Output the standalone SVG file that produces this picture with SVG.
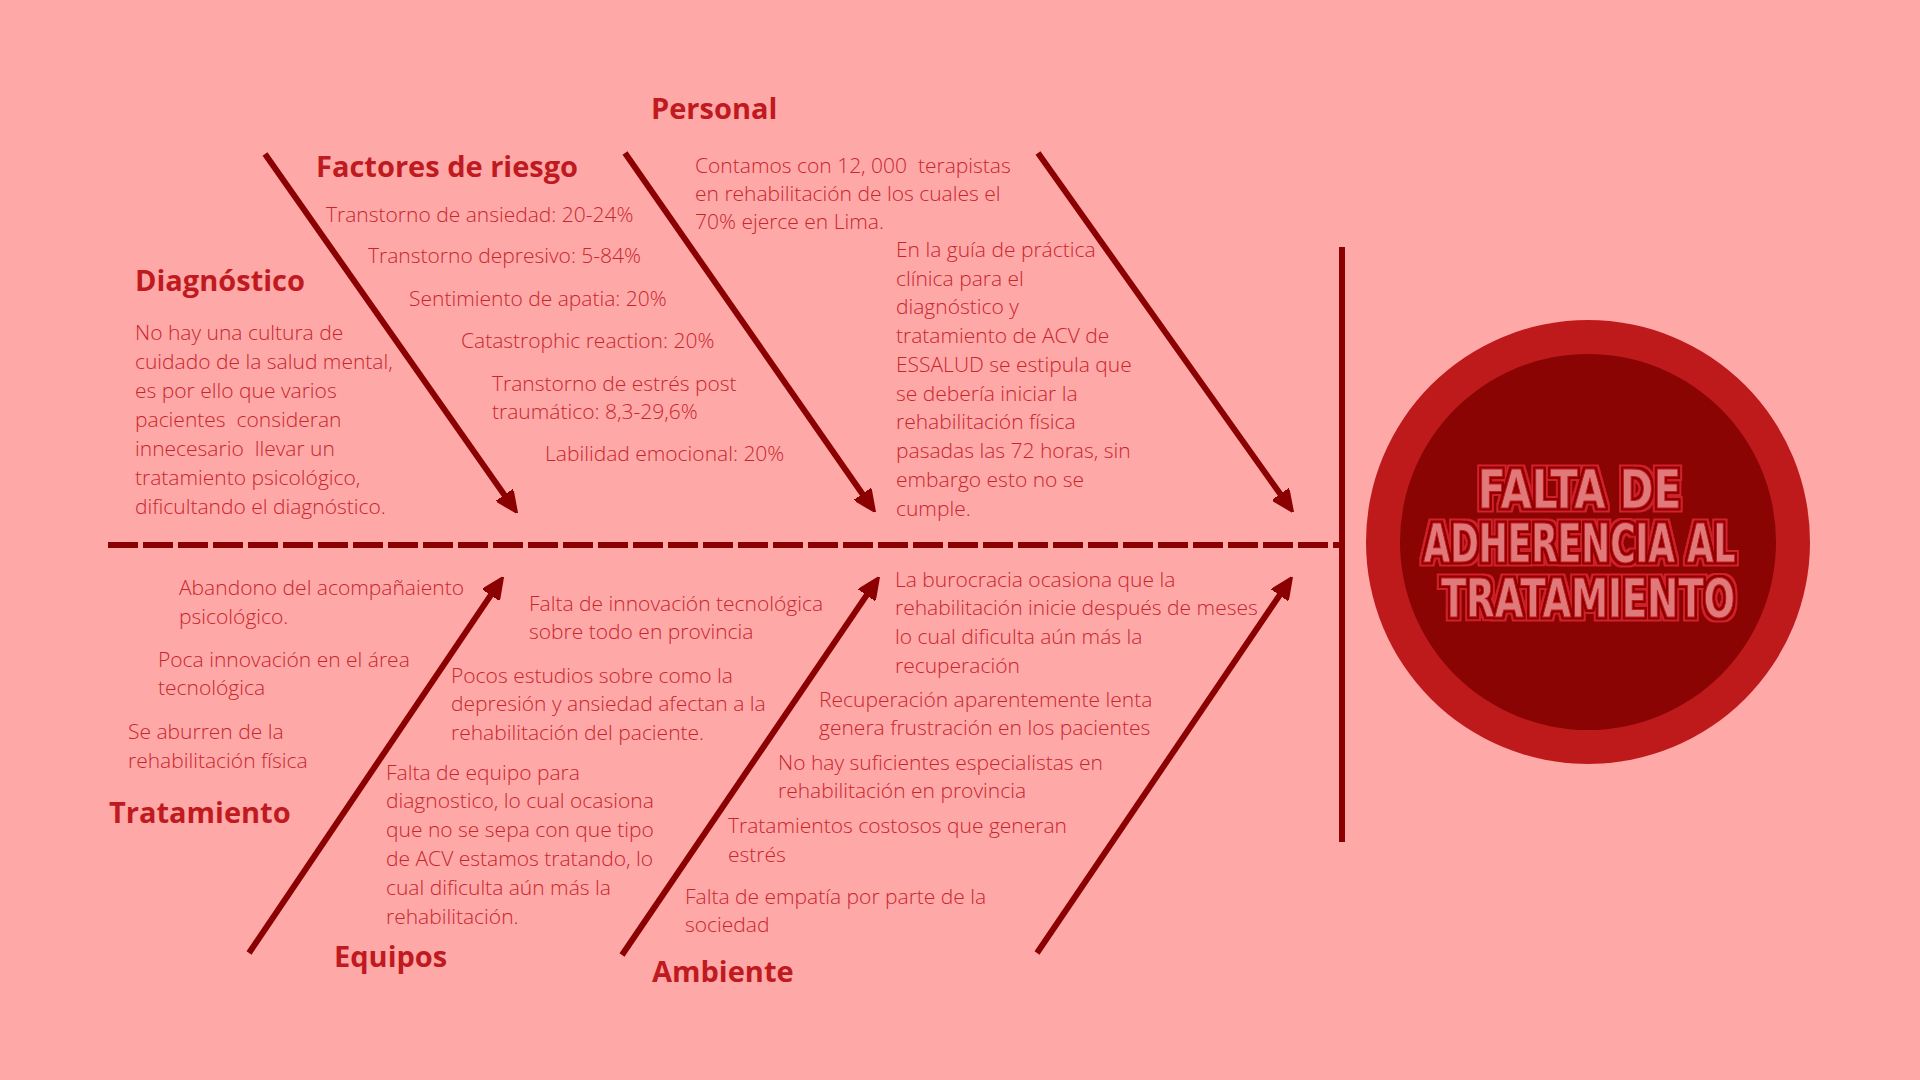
<svg xmlns="http://www.w3.org/2000/svg" width="1920" height="1080" viewBox="0 0 1920 1080">
  <style>
    .head { font-family: "Open Sans", "Liberation Sans", sans-serif; font-weight: 700; font-size: 29px; fill: #BF1A20; }
    .body { font-family: "Open Sans", "Liberation Sans", sans-serif; font-weight: 300; font-size: 21px; fill: #C8262D; white-space: pre; }
    .bone { stroke: #8B0000; stroke-width: 6; fill: none; marker-end: url(#head); }
    .title { font-family: "DejaVu Sans Condensed", "Liberation Sans Narrow", sans-serif; font-stretch: condensed; font-weight: 700; font-size: 54px; text-anchor: middle; fill: #E07A7A; stroke: #C8161E; stroke-width: 1; filter: url(#outline); }
  </style>
  <defs>
    <marker id="head" viewBox="0 0 22 20" refX="8" refY="10" markerWidth="22" markerHeight="20" markerUnits="userSpaceOnUse" orient="auto">
      <path d="M0,0 L22,10 L0,20 Z" fill="#8B0000" stroke="#8B0000" stroke-width="2" stroke-linejoin="round"/>
    </marker>
    <!-- double-line lettering: red outer line, dark gap, pink face -->
    <filter id="outline" x="-10%" y="-20%" width="120%" height="140%">
      <feMorphology in="SourceAlpha" operator="dilate" radius="4" result="wide"/>
      <feFlood flood-color="#D0202A"/>
      <feComposite in2="wide" operator="in" result="outer"/>
      <feMorphology in="SourceAlpha" operator="dilate" radius="2.2" result="mid"/>
      <feFlood flood-color="#8E0606"/>
      <feComposite in2="mid" operator="in" result="gap"/>
      <feMerge>
        <feMergeNode in="outer"/>
        <feMergeNode in="gap"/>
        <feMergeNode in="SourceGraphic"/>
      </feMerge>
    </filter>
  </defs>

  <rect width="1920" height="1080" fill="#FFA8A8"/>

  <!-- spine, head bar and bones -->
  <g id="connectors">
    <line x1="108" y1="545" x2="1342" y2="545" stroke="#8B0000" stroke-width="6" stroke-dasharray="30 5"/>
    <line x1="1342" y1="247" x2="1342" y2="842" stroke="#8B0000" stroke-width="6"/>
    <line class="bone" x1="265" y1="154" x2="509" y2="501.5"/>
    <line class="bone" x1="625" y1="153" x2="867" y2="500.5"/>
    <line class="bone" x1="1038" y1="153" x2="1284.9" y2="500.6"/>
    <line class="bone" x1="249" y1="953" x2="495.2" y2="588.6"/>
    <line class="bone" x1="622" y1="955" x2="871.1" y2="588.6"/>
    <line class="bone" x1="1037" y1="953" x2="1284.1" y2="588.6"/>
  </g>

  <!-- problem head -->
  <g id="problema">
    <circle cx="1588" cy="542" r="222" fill="#BE1A1C"/>
    <circle cx="1588" cy="542" r="188" fill="#8B0404"/>
    <text class="title">
      <tspan x="1588" y="508" textLength="203" lengthAdjust="spacingAndGlyphs">FALTA DE</tspan>
      <tspan x="1588" y="562" textLength="312" lengthAdjust="spacingAndGlyphs">ADHERENCIA AL</tspan>
      <tspan x="1588" y="617" textLength="294" lengthAdjust="spacingAndGlyphs">TRATAMIENTO</tspan>
    </text>
  </g>

  <!-- Diagnóstico -->
  <g id="diagnostico">
    <text class="head" x="135" y="291">Diagnóstico</text>
    <text class="body">
      <tspan x="135" y="340">No hay una cultura de</tspan>
      <tspan x="135" y="369">cuidado de la salud mental,</tspan>
      <tspan x="135" y="398">es por ello que varios</tspan>
      <tspan x="135" y="427">pacientes  consideran</tspan>
      <tspan x="135" y="456">innecesario  llevar un</tspan>
      <tspan x="135" y="485">tratamiento psicológico,</tspan>
      <tspan x="135" y="514">dificultando el diagnóstico.</tspan>
    </text>
  </g>

  <!-- Factores de riesgo -->
  <g id="factores">
    <text class="head" x="316" y="177">Factores de riesgo</text>
    <text class="body" x="326" y="222">Transtorno de ansiedad: 20-24%</text>
    <text class="body" x="368" y="263">Transtorno depresivo: 5-84%</text>
    <text class="body" x="409" y="306">Sentimiento de apatia: 20%</text>
    <text class="body" x="461" y="348">Catastrophic reaction: 20%</text>
    <text class="body">
      <tspan x="492" y="391">Transtorno de estrés post</tspan>
      <tspan x="492" y="419">traumático: 8,3-29,6%</tspan>
    </text>
    <text class="body" x="545" y="461">Labilidad emocional: 20%</text>
  </g>

  <!-- Personal -->
  <g id="personal">
    <text class="head" x="651" y="119">Personal</text>
    <text class="body">
      <tspan x="695" y="173">Contamos con 12, 000  terapistas</tspan>
      <tspan x="695" y="201">en rehabilitación de los cuales el</tspan>
      <tspan x="695" y="229">70% ejerce en Lima.</tspan>
    </text>
    <text class="body">
      <tspan x="896" y="257">En la guía de práctica</tspan>
      <tspan x="896" y="286">clínica para el</tspan>
      <tspan x="896" y="314">diagnóstico y</tspan>
      <tspan x="896" y="343">tratamiento de ACV de</tspan>
      <tspan x="896" y="372">ESSALUD se estipula que</tspan>
      <tspan x="896" y="401">se debería iniciar la</tspan>
      <tspan x="896" y="429">rehabilitación física</tspan>
      <tspan x="896" y="458">pasadas las 72 horas, sin</tspan>
      <tspan x="896" y="487">embargo esto no se</tspan>
      <tspan x="896" y="516">cumple.</tspan>
    </text>
  </g>

  <!-- Tratamiento -->
  <g id="tratamiento">
    <text class="head" x="109" y="823">Tratamiento</text>
    <text class="body">
      <tspan x="179" y="595">Abandono del acompañaiento</tspan>
      <tspan x="179" y="624">psicológico.</tspan>
    </text>
    <text class="body">
      <tspan x="158" y="667">Poca innovación en el área</tspan>
      <tspan x="158" y="695">tecnológica</tspan>
    </text>
    <text class="body">
      <tspan x="128" y="739">Se aburren de la</tspan>
      <tspan x="128" y="768">rehabilitación física</tspan>
    </text>
  </g>

  <!-- Equipos -->
  <g id="equipos">
    <text class="head" x="334" y="967">Equipos</text>
    <text class="body">
      <tspan x="529" y="611">Falta de innovación tecnológica</tspan>
      <tspan x="529" y="639">sobre todo en provincia</tspan>
    </text>
    <text class="body">
      <tspan x="451" y="683">Pocos estudios sobre como la</tspan>
      <tspan x="451" y="711">depresión y ansiedad afectan a la</tspan>
      <tspan x="451" y="740">rehabilitación del paciente.</tspan>
    </text>
    <text class="body">
      <tspan x="386" y="780">Falta de equipo para</tspan>
      <tspan x="386" y="808">diagnostico, lo cual ocasiona</tspan>
      <tspan x="386" y="837">que no se sepa con que tipo</tspan>
      <tspan x="386" y="866">de ACV estamos tratando, lo</tspan>
      <tspan x="386" y="895">cual dificulta aún más la</tspan>
      <tspan x="386" y="924">rehabilitación.</tspan>
    </text>
  </g>

  <!-- Ambiente -->
  <g id="ambiente">
    <text class="head" x="652" y="982">Ambiente</text>
    <text class="body">
      <tspan x="895" y="587">La burocracia ocasiona que la</tspan>
      <tspan x="895" y="615">rehabilitación inicie después de meses</tspan>
      <tspan x="895" y="644">lo cual dificulta aún más la</tspan>
      <tspan x="895" y="673">recuperación</tspan>
    </text>
    <text class="body">
      <tspan x="819" y="707">Recuperación aparentemente lenta</tspan>
      <tspan x="819" y="735">genera frustración en los pacientes</tspan>
    </text>
    <text class="body">
      <tspan x="778" y="770">No hay suficientes especialistas en</tspan>
      <tspan x="778" y="798">rehabilitación en provincia</tspan>
    </text>
    <text class="body">
      <tspan x="728" y="833">Tratamientos costosos que generan</tspan>
      <tspan x="728" y="862">estrés</tspan>
    </text>
    <text class="body">
      <tspan x="685" y="904">Falta de empatía por parte de la</tspan>
      <tspan x="685" y="932">sociedad</tspan>
    </text>
  </g>
</svg>
